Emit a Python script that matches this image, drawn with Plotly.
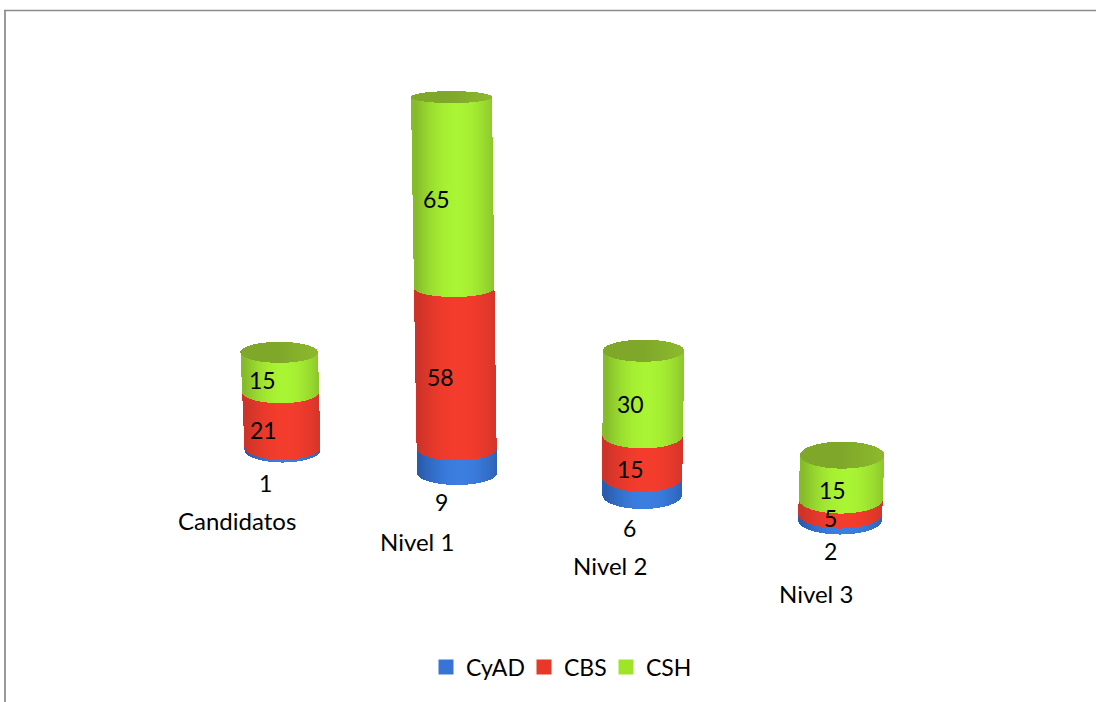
import math
import plotly.graph_objects as go

# --- chart data ---
categories = ["Candidatos", "Nivel 1", "Nivel 2", "Nivel 3"]
cyad = [1, 9, 6, 2]
cbs = [21, 58, 15, 5]
csh = [15, 65, 30, 15]
series_names = ["CyAD", "CBS", "CSH"]

# --- styling of the perspective view (pixels per unit, drum geometry) ---
W, H = 1096, 702
floor_px = [450, 473, 495, 520]
unit_px = [2.64, 2.671, 2.83, 2.95]
curve_px = [0, 0.00134, 0, 0]
left_bot = [244.5, 417, 602.3, 798]
right_bot = [320.5, 497, 682, 882]
left_top = [240.5, 411, 602.7, 800]
right_top = [318, 492, 684.3, 884.3]
ry_bot = [12.5, 12, 14, 14.5]
ry_top = [10.5, 6, 11, 13.5]

side_light = ["#3B7EE0", "#F43C2C", "#A9F433"]
side_dark = ["#2A5CAE", "#CE3329", "#86BC2A"]
lid_color = "#7FA82B"
swatch = ["#3874D8", "#E83828", "#A0E428"]
label_font = "Lato"
value_size = 23
cat_size = 24
legend_size = 23
legend_widths = [53, 37, 45]

value_label_x = [[265, 263, 262], [441, 440, 436], [629, 630, 630], [830, 830, 832]]
value_label_px = [[483, 430, 380], [502, 377, 199], [528, 469, 404], [551, 518, 490]]
cat_label_x = [237, 417, 610, 816]
cat_label_px = [520, 541, 565, 593]


def mix(a, b, k):
    ca = [int(a[i:i + 2], 16) for i in (1, 3, 5)]
    cb = [int(b[i:i + 2], 16) for i in (1, 3, 5)]
    return "rgb(%d,%d,%d)" % tuple(round(p + (q - p) * k) for p, q in zip(ca, cb))


def geom(c, f):
    left = left_bot[c] + (left_top[c] - left_bot[c]) * f
    right = right_bot[c] + (right_top[c] - right_bot[c]) * f
    ry = ry_bot[c] + (ry_top[c] - ry_bot[c]) * f
    return left, right, ry


def level_px(c, total, f):
    v = total * f
    return floor_px[c] - unit_px[c] * v - curve_px[c] * v * v


def arc_px(c, total, f, x, sign):
    left, right, ry = geom(c, f)
    cx, rx = (left + right) / 2, (right - left) / 2
    t = max(-1.0, min(1.0, (x - cx) / rx))
    return level_px(c, total, f) + sign * ry * math.sqrt(1 - t * t)


def valid_range(c, x):
    lo, hi = 0.0, 1.0
    for a, b, is_left in ((left_bot[c], left_top[c], True), (right_bot[c], right_top[c], False)):
        d = b - a
        if abs(d) < 1e-9:
            if (is_left and x < a) or (not is_left and x > a):
                return None
            continue
        s = (x - a) / d
        if (is_left and d > 0) or (not is_left and d < 0):
            hi = min(hi, s)
        else:
            lo = max(lo, s)
    return (lo, hi) if lo < hi else None


fig = go.Figure()
stacks = [cyad, cbs, csh]

for s in range(3):
    xs, bases, heights, colors = [], [], [], []
    for c in range(4):
        total = cyad[c] + cbs[c] + csh[c]
        cum = sum(stacks[k][c] for k in range(s))
        f0, f1 = cum / total, (cum + stacks[s][c]) / total
        x0 = math.floor(min(left_bot[c], left_top[c]))
        x1 = math.ceil(max(right_bot[c], right_top[c]))
        for px in range(x0, x1):
            x = px + 0.5
            vr = valid_range(c, x)
            if vr is None:
                continue
            a, b = max(f0, vr[0]), min(f1, vr[1])
            if a >= b:
                continue
            bot = arc_px(c, total, a, x, 1) if a == f0 else level_px(c, total, a)
            top = arc_px(c, total, b, x, 1) if b == f1 else level_px(c, total, b)
            if bot <= top:
                continue
            left, right, _ = geom(c, (a + b) / 2)
            t = (x - (left + right) / 2) / ((right - left) / 2)
            xs.append(x)
            bases.append(H - bot)
            heights.append(bot - top)
            colors.append(mix(side_light[s], side_dark[s], min(1.0, abs(t - 0.1) ** 2.0)))
    fig.add_trace(go.Bar(x=xs, y=heights, base=bases, width=1, name=series_names[s],
                         marker=dict(color=colors, line=dict(width=0)),
                         showlegend=False, hoverinfo="skip"))

# lids of the drums
xs, bases, heights, colors = [], [], [], []
for c in range(4):
    total = cyad[c] + cbs[c] + csh[c]
    for px in range(math.floor(left_top[c]), math.ceil(right_top[c])):
        x = px + 0.5
        if not (left_top[c] <= x <= right_top[c]):
            continue
        bot = arc_px(c, total, 1.0, x, 1)
        top = arc_px(c, total, 1.0, x, -1)
        t = (x - (left_top[c] + right_top[c]) / 2) / ((right_top[c] - left_top[c]) / 2)
        xs.append(x)
        bases.append(H - bot)
        heights.append(max(bot - top, 0.5))
        colors.append(mix(lid_color, "#8DBA2C", max(0.0, t)))
fig.add_trace(go.Bar(x=xs, y=heights, base=bases, width=1, name="top",
                     marker=dict(color=colors, line=dict(width=0)),
                     showlegend=False, hoverinfo="skip"))

# legend entries
for s in range(3):
    fig.add_trace(go.Scatter(x=[None], y=[None], mode="markers", name=series_names[s],
                             legendwidth=legend_widths[s],
                             marker=dict(symbol="square", size=15, color=swatch[s]),
                             hoverinfo="skip"))

annotations = []
for c in range(4):
    for s in range(3):
        annotations.append(dict(x=value_label_x[c][s], y=H - value_label_px[c][s], xref="x", yref="y",
                                text=str(stacks[s][c]), showarrow=False, font=dict(size=value_size),
                                xanchor="center", yanchor="middle"))
    annotations.append(dict(x=cat_label_x[c], y=H - cat_label_px[c], xref="x", yref="y",
                            text=categories[c], showarrow=False, font=dict(size=cat_size),
                            xanchor="center", yanchor="middle"))

shapes = [
    dict(type="line", xref="x", yref="y", x0=5, x1=5, y0=0, y1=H - 10,
         line=dict(color="#9a9a9a", width=2)),
    dict(type="line", xref="x", yref="y", x0=4, x1=W, y0=H - 10.5, y1=H - 10.5,
         line=dict(color="#8c8c8c", width=1.5)),
]

fig.update_layout(
    width=W, height=H, margin=dict(l=0, r=0, t=0, b=0),
    barmode="overlay", bargap=0,
    paper_bgcolor="white", plot_bgcolor="white",
    font=dict(family=label_font, size=value_size, color="#000000"),
    xaxis=dict(range=[0, W], visible=False, fixedrange=True),
    yaxis=dict(range=[0, H], visible=False, fixedrange=True),
    annotations=annotations, shapes=shapes,
    legend=dict(orientation="h", x=426 / W, y=(H - 667) / H, xanchor="left", yanchor="middle",
                bgcolor="rgba(0,0,0,0)", font=dict(family=label_font, size=legend_size, color="#000000")),
    hovermode=False,
)

fig.write_html("out.html", config={"displayModeBar": False},
               post_script="document.body.style.margin='0';document.body.style.overflow='hidden';")
